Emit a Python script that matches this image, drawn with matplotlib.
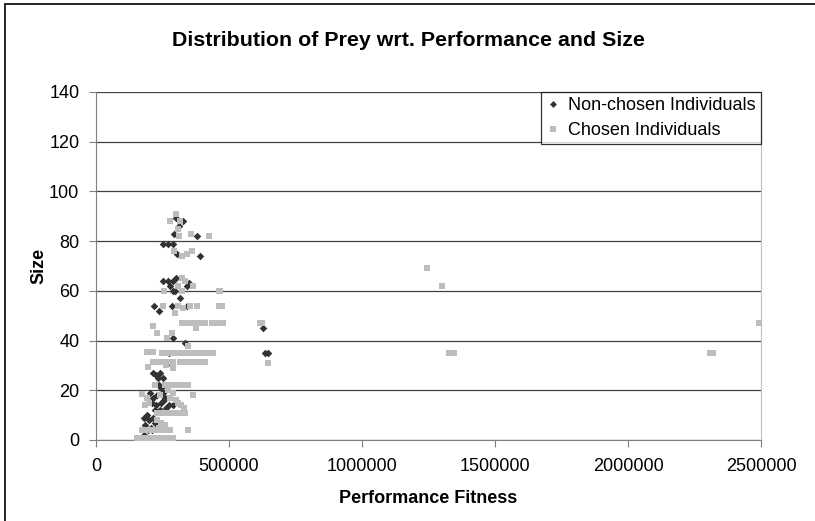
import matplotlib
matplotlib.use("Agg")
import matplotlib.pyplot as plt
from matplotlib.lines import Line2D
from matplotlib.patches import Rectangle

plt.rcParams['font.family'] = ['Liberation Sans', 'DejaVu Sans']

# Non-chosen individuals (performance fitness, size)
non_x = [300000, 326000, 313000, 293000, 381000,
         253000, 272000, 291000, 306000, 391000,
         299000, 253000, 272000, 291000, 351000,
         278000, 343000, 288000, 297000, 316000,
         218000, 285000, 341000, 236000, 288000, 334000,
         629000, 636000, 645000, 276000, 278000,
         216000, 225000, 240000, 250000, 232000,
         235000, 245000,
         203000, 215000, 230000, 250000, 260000, 210000, 225000,
         245000, 265000, 220000, 240000, 255000, 275000, 290000,
         180000, 190000, 200000, 215000, 185000, 205000, 220000,
         195000, 210000, 193000, 180000]
non_y = [89.5, 88, 86, 83, 82,
         79, 79, 79, 75, 74,
         65, 64, 64, 64, 63,
         62, 62, 60, 60, 57,
         54, 54, 54, 52, 41, 39,
         45, 35, 35, 35, 31,
         27, 26, 27, 25, 25,
         22, 21,
         19, 17, 18, 19, 17, 15, 14,
         15, 13, 12, 12, 16, 14, 14,
         9, 10, 8, 9, 6, 5, 7,
         4, 4, 1, 2]

# Chosen individuals
cho_x = [300000, 278000, 316000, 309000, 313000, 356000, 426000,
         293000, 322000, 341000, 360000,
         322000, 334000, 366000,
         309000, 257000, 322000, 464000, 466000,
         253000, 309000, 328000, 353000, 378000, 464000, 472000,
         297000,
         322000, 335000, 348000, 360000, 372000, 385000, 398000, 410000,
         435000, 448000, 462000, 478000, 617000, 623000, 2493000,
         1243000, 1300000,
         213000, 376000, 228000, 285000, 268000, 347000,
         191000, 216000, 247000, 260000, 273000, 286000, 299000, 312000,
         325000, 338000, 351000, 364000, 377000, 390000, 403000, 416000,
         428000, 441000, 1328000, 1345000, 2310000, 2320000,
         216000, 229000, 242000, 255000, 268000, 281000, 291000, 316000,
         329000, 342000, 355000, 368000, 381000, 394000, 410000, 648000,
         197000, 265000, 290000,
         222000, 260000, 272000, 284000, 296000, 308000, 320000, 327000, 347000,
         172000, 366000,
         190000, 200000, 185000, 240000, 280000, 300000, 310000, 320000,
         330000, 290000, 270000,
         228000, 240000, 252000, 264000, 276000, 288000, 300000, 312000,
         324000, 335000,
         230000, 245000, 260000, 235000,
         172000, 185000, 198000, 212000, 225000, 238000, 252000, 265000,
         278000, 347000,
         153000, 166000, 179000, 192000, 205000, 218000, 231000, 244000,
         257000, 270000, 283000, 291000]
cho_y = [91, 88, 88, 85, 82, 83, 82,
         76, 74, 75, 76,
         65, 64, 62,
         62, 60, 60, 60, 60,
         54, 54, 53, 54, 54, 54, 54,
         51,
         47, 47, 47, 47, 47, 47, 47, 47,
         47, 47, 47, 47, 47, 47, 47,
         69, 62,
         46, 45, 43, 43, 41, 38,
         35.5, 35.5, 35, 35, 35, 35, 35, 35,
         35, 35, 35, 35, 35, 35, 35, 35,
         35, 35, 35, 35, 35, 35,
         31.5, 31.5, 31.5, 31.5, 31.5, 31.5, 31.5, 31.5,
         31.5, 31.5, 31.5, 31.5, 31.5, 31.5, 31.5, 31,
         29.5, 30, 29,
         22, 22, 22, 22, 22, 22, 22, 22, 22,
         18.4, 18,
         17, 15, 14, 18, 17, 16, 15, 14,
         13, 19, 20,
         10.7, 10.7, 10.7, 10.7, 10.7, 10.7, 10.7, 10.7,
         10.7, 10.7,
         8, 7, 6, 5,
         4, 4, 4, 4, 4, 4, 4, 4,
         4, 4,
         1, 1, 1, 1, 1, 1, 1, 1,
         1, 1, 1, 1]

x_ticks = [0, 500000, 1000000, 1500000, 2000000, 2500000]
y_ticks = [0, 20, 40, 60, 80, 100, 120, 140]

dark = '#333333'
grey = '#bdbdbd'

fig = plt.figure(figsize=(8.15, 5.21), dpi=100)
ax = fig.add_axes([96/815, 1 - 440/521, 665/815, 348/521])

# outer chart border
fig.patches.append(Rectangle((5/815, -0.1), 1.2, 1 - 4/521 + 0.1,
                             transform=fig.transFigure, fill=False,
                             edgecolor='#000000', linewidth=1.2))

ax.scatter(non_x, non_y, marker='D', s=15, color=dark, linewidths=0, zorder=3)
ax.scatter(cho_x, cho_y, marker='s', s=16, color=grey, linewidths=0, zorder=4)

ax.set_xlim(0, 2500000)
ax.set_ylim(0, 140)
ax.set_xticks(x_ticks)
ax.set_xticklabels([str(v) for v in x_ticks])
ax.set_yticks(y_ticks)
ax.yaxis.grid(True, color='#404040', linewidth=0.9)
ax.set_axisbelow(True)

for s in ['left', 'bottom', 'right']:
    ax.spines[s].set_color('#808080')
ax.spines['right'].set_color('#c0c0c0')
ax.spines['top'].set_visible(False)
ax.tick_params(direction='out', length=5, color='#808080', labelsize=13)
ax.tick_params(axis='y', pad=7)
ax.tick_params(axis='x', pad=8)

ax.set_xlabel('Performance Fitness', fontsize=13, fontweight='bold', labelpad=11)
ax.set_ylabel('Size', fontsize=13, fontweight='bold', labelpad=1)
fig.text(408/815, 1 - 41/521, 'Distribution of Prey wrt. Performance and Size',
         ha='center', va='center', fontsize=15.4, fontweight='bold')

handles = [Line2D([], [], linestyle='none', marker='D', markersize=3.5,
                  color=dark, markeredgewidth=0),
           Line2D([], [], linestyle='none', marker='s', markersize=4.5,
                  color=grey, markeredgewidth=0)]
leg = ax.legend(handles, ['Non-chosen Individuals', 'Chosen Individuals'],
                loc='upper right', bbox_to_anchor=(1.0, 1.0), fontsize=13,
                frameon=True, fancybox=False, borderpad=0.3,
                labelspacing=0.42, handlelength=0.7, handletextpad=0.5,
                borderaxespad=0)
leg.get_frame().set_edgecolor('#000000')
leg.get_frame().set_linewidth(0.9)

fig.savefig('out.png', dpi=100)
